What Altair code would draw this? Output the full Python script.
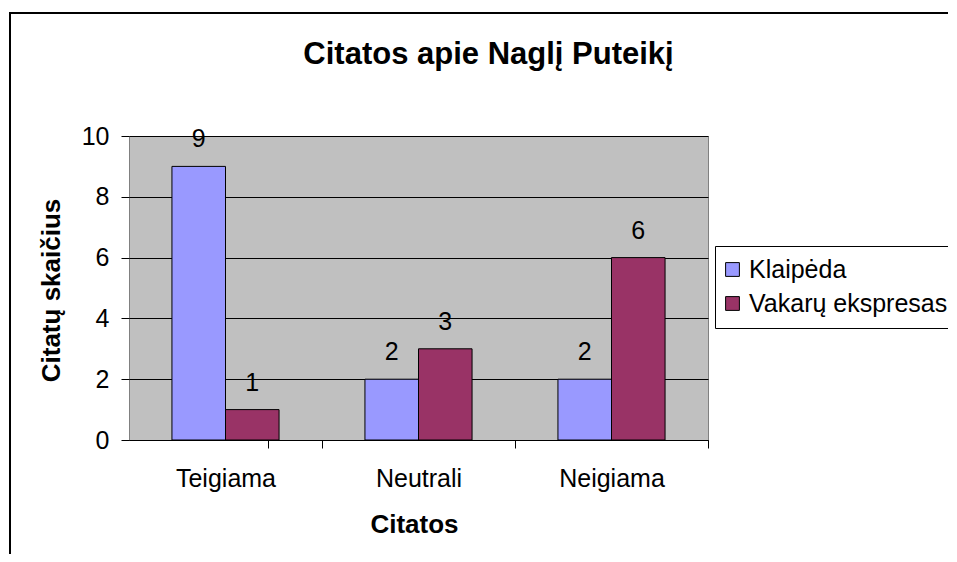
import altair as alt
import pandas as pd

categories = ["Teigiama", "Neutrali", "Neigiama"]
series_names = ["Klaipėda", "Vakarų ekspresas"]
klaipeda = [9, 2, 2]
vakaru = [1, 3, 6]
colors = ["#9999FF", "#993366"]
y_ticks = [0, 2, 4, 6, 8, 10]

rows = []
for c, k, v in zip(categories, klaipeda, vakaru):
    rows.append({"Citatos": c, "Šaltinis": series_names[0], "Kiekis": k})
    rows.append({"Citatos": c, "Šaltinis": series_names[1], "Kiekis": v})
df = pd.DataFrame(rows)

FONT = "Liberation Sans"

x_enc = alt.X(
    "Citatos:N",
    sort=categories,
    scale=alt.Scale(paddingInner=0.445, paddingOuter=0.2225),
    axis=alt.Axis(
        title="Citatos",
        labelAngle=0,
        ticks=True,
        tickOffset=96.5,
        labelOffset=-96.5,
        tickExtra=True,
        labelFont=FONT,
        labelFontSize=25,
        labelColor="black",
        labelBaseline="alphabetic",
        labelPadding=38,
        tickSize=8,
        tickWidth=1,
        tickColor="black",
        tickOpacity=1,
        domainColor="black",
        titleFont=FONT,
        titleFontSize=26,
        titleFontWeight="bold",
        titleColor="black",
        titleX=285,
        titleY=92,
        titleAlign="center",
        titleBaseline="alphabetic",
    ),
)
xoff = alt.XOffset("Šaltinis:N", sort=series_names,
                   scale=alt.Scale(paddingInner=0, paddingOuter=0))
y_enc = alt.Y(
    "Kiekis:Q",
    scale=alt.Scale(domain=[0, 10]),
    axis=alt.Axis(
        title="Citatų skaičius",
        values=y_ticks,
        grid=True,
        gridColor="black",
        gridOpacity=1,
        domain=False,
        tickColor="black",
        tickSize=8,
        labelFont=FONT,
        labelFontSize=25,
        labelColor="black",
        labelPadding=12,
        titleFont=FONT,
        titleFontSize=26,
        titleFontWeight="bold",
        titleColor="black",
        titleX=-70,
        titleY=154,
        titleAngle=-90,
        titleAlign="center",
        titleBaseline="alphabetic",
    ),
)
color_enc = alt.Color(
    "Šaltinis:N",
    sort=series_names,
    scale=alt.Scale(domain=series_names, range=colors),
    legend=alt.Legend(
        title=None,
        orient="none",
        legendX=586,
        legendY=110,
        symbolType="square",
        symbolSize=190,
        symbolStrokeColor="black",
        symbolStrokeWidth=1,
        symbolOpacity=1,
        symbolOffset=-6,
        labelFont=FONT,
        labelFontSize=25,
        labelColor="black",
        labelOffset=4,
        labelLimit=0,
        padding=11,
        rowPadding=8,
        strokeColor="black",
        fillColor="white",
    ),
)

base = alt.Chart(df)
bars = base.mark_bar(stroke="black", strokeWidth=1, opacity=1).encode(
    x=x_enc, xOffset=xoff, y=y_enc, color=color_enc
)
labels = base.mark_text(
    dy=-19, baseline="alphabetic", fontSize=25, font=FONT, color="black"
).encode(x=x_enc, xOffset=xoff, y=y_enc, text="Kiekis:Q")

frame = alt.Chart(pd.DataFrame({"k": [0]})).mark_rect(
    fillOpacity=0, stroke="black", strokeWidth=2
).encode(
    x=alt.value(-119), x2=alt.value(900), y=alt.value(-123), y2=alt.value(600)
)

chart = alt.layer(bars, labels, frame).properties(
    width=579,
    height=304,
    title=alt.TitleParams(
        "Citatos apie Naglį Puteikį",
        font=FONT,
        fontSize=31,
        fontWeight="bold",
        color="black",
        anchor="middle",
        frame="group",
        baseline="alphabetic",
        dx=70,
        dy=83,
        offset=0,
    ),
    autosize=alt.AutoSizeParams(type="none"),
    padding={"left": 121, "top": 128, "right": 240, "bottom": 114},
    background="white",
).configure_view(stroke="#808080", strokeWidth=1, fill="#C0C0C0")

chart.save("out.html", embed_options={"renderer": "svg", "actions": False})
